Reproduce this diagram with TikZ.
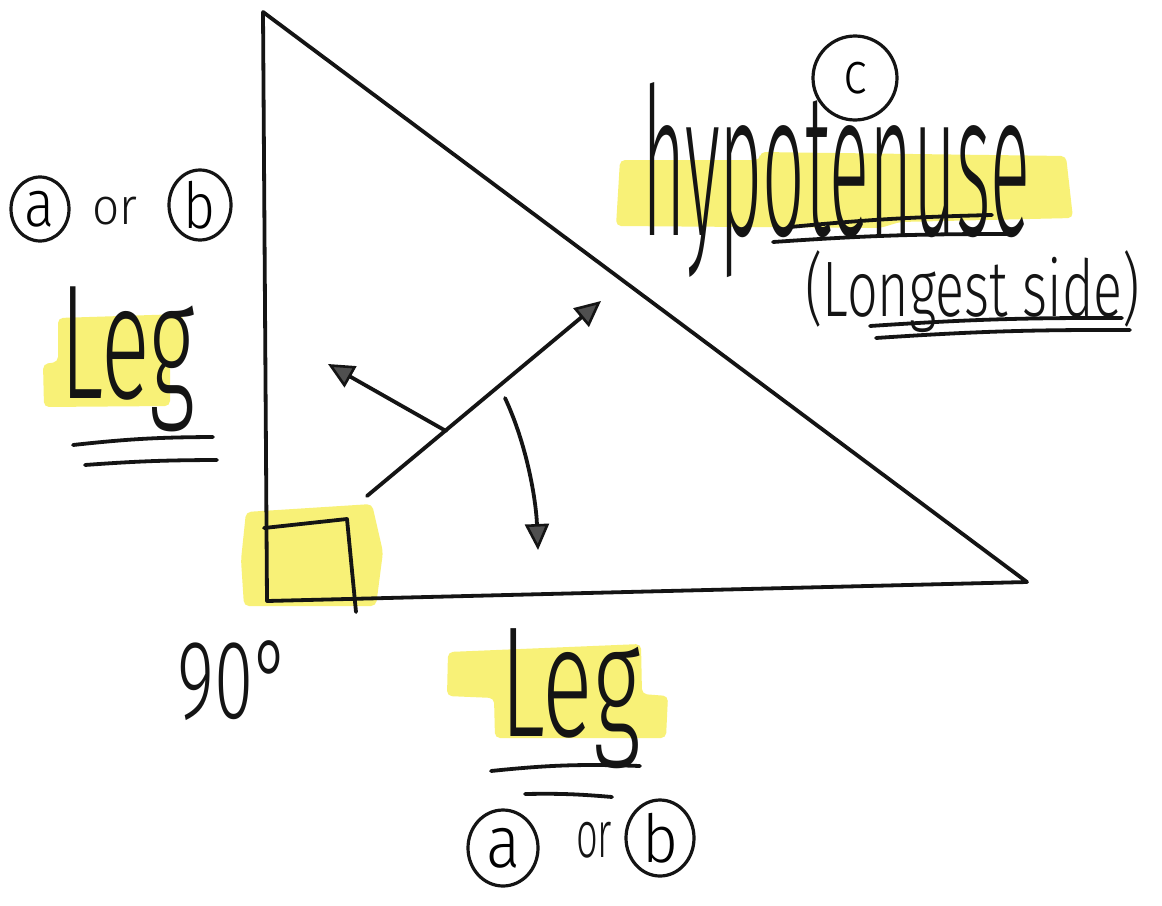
\documentclass[tikz,border=0pt]{standalone}
\usepackage{graphicx}
\usepackage{fontspec}
\setmainfont{Fira Sans Light}
\usetikzlibrary{arrows.meta,shapes.geometric}
\definecolor{hl}{RGB}{248,240,105}
\definecolor{ink}{RGB}{20,20,20}
\tikzset{
  pen/.style={draw=ink,line width=3.8pt,line cap=round,line join=round},
  marker/.style={fill=hl,draw=none,rounded corners=5pt,opacity=0.9},
  txt/.style={anchor=north west,inner sep=0pt,text=ink},
  ring/.style={ellipse,draw=ink,line width=3.2pt,inner sep=0pt},
  head/.style={-{Triangle[length=26pt,width=24pt,line width=2.6pt,fill=ink!75]}}
}
\newcommand{\fit}[3]{\resizebox*{#1pt}{#2pt}{#3}}
\begin{document}
\begin{tikzpicture}[x=1pt,y=-1pt]
\useasboundingbox (0,0) rectangle (1162,905);
\fill[white] (0,0) rectangle (1162,905);
% highlights
\fill[marker] (58,318) -- (183,314) -- (184,360) -- (170,362) -- (170,406) -- (44,407) -- (43,364) -- (58,362) -- cycle;
\fill[marker] (620,160) -- (760,160) -- (760,152) -- (1066,156) -- (1073,218) -- (900,222) -- (880,228) -- (616,226) -- cycle;
\fill[marker] (246,512) -- (372,504) -- (383,552) -- (376,606) -- (244,606) -- (241,560) -- cycle;
\fill[marker] (448,652) -- (641,644) -- (642,694) -- (668,696) -- (666,738) -- (495,738) -- (494,698) -- (447,696) -- cycle;
% triangle
\coordinate (A) at (263,12);
\coordinate (B) at (267,601);
\coordinate (C) at (1027,582);
\draw[pen] (A) -- (B) -- (C) -- cycle;
% right-angle square
\coordinate (s1) at (264,528);
\coordinate (s2) at (347,519);
\coordinate (s3) at (356,612);
\draw[pen] (s1) -- (s2) -- (s3);
% arrows
\coordinate (o1) at (367,496);
\coordinate (t1) at (601,301);
\coordinate (o2) at (446,431);
\coordinate (t2) at (328,364);
\coordinate (o3) at (505,398);
\coordinate (t3) at (538,550);
\draw[pen,head] (o1) -- (t1);
\draw[pen,head] (o2) -- (t2);
\draw[pen,head] (o3) .. controls (527,445) and (536,500) .. (t3);
% texts
\node[txt] (hyp) at (642,82) {\fit{388}{195}{hypotenuse}};
\node[txt] (longest) at (805,250) {\fit{335}{82}{(Longest side)}};
\node[txt] (legL) at (60,287) {\fit{135}{145}{Leg}};
\node[txt] (legB) at (500,628) {\fit{140}{140}{Leg}};
\node[txt] (ninety) at (177,640) {\fit{113}{80}{90°}};
\node[txt] (orL) at (92,197) {\fit{45}{28}{or}};
\node[txt] (orB) at (576,822) {\fit{36}{36}{or}};
% circled letters
\node[ring,minimum width=58pt,minimum height=64pt] (aL) at (40,209) {\fit{30}{36}{a}};
\node[ring,minimum width=62pt,minimum height=70pt] (bL) at (200,205) {\fit{32}{48}{b}};
\node[ring,minimum width=84pt,minimum height=84pt] (cT) at (855,78) {\fit{24}{32}{c}};
\node[ring,minimum width=70pt,minimum height=76pt] (aB) at (503,848) {\fit{34}{40}{a}};
\node[ring,minimum width=68pt,minimum height=76pt] (bB) at (660,838) {\fit{36}{50}{b}};
% underlines
\draw[pen] (73,445) to[bend left=3] (213,437);
\draw[pen] (85,465) to[bend left=2] (217,460);
\draw[pen] (790,227) to[bend left=2] (992,215);
\draw[pen] (773,242) to[bend left=2] (1010,234);
\draw[pen] (870,326) to[bend left=2] (1122,318);
\draw[pen] (876,338) to[bend left=2] (1130,330);
\draw[pen] (491,771) to[bend left=4] (640,766);
\draw[pen] (525,794) to[bend left=3] (612,797);
\end{tikzpicture}
\end{document}
